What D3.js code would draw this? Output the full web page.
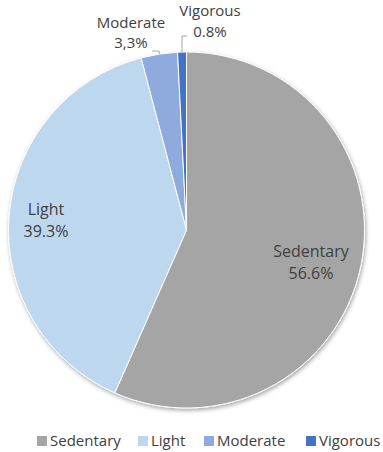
<!DOCTYPE html>
<html lang="en">
<head>
  <meta charset="UTF-8">
  <title>Activity pie</title>
  <script src="https://cdn.jsdelivr.net/npm/d3@7"></script>
  <style>
    body { margin: 0; background: #fff; }
    text { font-family: "Open Sans", "Noto Sans", sans-serif; fill: #404040; }
  </style>
</head>
<body>
<script>
  // data
  const categories = ["Sedentary", "Light", "Moderate", "Vigorous"];
  const values = [56.6, 39.3, 3.3, 0.8];
  const valueLabels = ["56.6%", "39.3%", "3,3%", "0.8%"];
  const colors = ["#a5a5a5", "#bdd7ee", "#8faadc", "#4472c4"];

  const width = 383, height = 452;
  const cx = 186.5, cy = 230, r = 178;

  const svg = d3.select("body").append("svg")
    .attr("width", width)
    .attr("height", height);

  // soft shadow under the pie
  const defs = svg.append("defs");
  const f = defs.append("filter").attr("id", "shadow")
    .attr("x", "-10%").attr("y", "-10%").attr("width", "120%").attr("height", "120%");
  f.append("feDropShadow")
    .attr("dx", 1).attr("dy", 2).attr("stdDeviation", 2)
    .attr("flood-color", "#000").attr("flood-opacity", 0.35);

  const pie = d3.pie().sort(null).value(d => d.value);
  const arcs = pie(categories.map((c, i) => ({ name: c, value: values[i], label: valueLabels[i], color: colors[i] })));
  const arc = d3.arc().innerRadius(0).outerRadius(r);

  const g = svg.append("g").attr("transform", `translate(${cx},${cy})`);
  g.append("g").attr("filter", "url(#shadow)")
    .selectAll("path")
    .data(arcs)
    .join("path")
    .attr("d", arc)
    .attr("fill", d => d.data.color)
    .attr("stroke", "#fff")
    .attr("stroke-width", 1);

  // inside labels (Sedentary, Light)
  const inside = [
    { i: 0, x: 311 - cx, y: 257 - cy },
    { i: 1, x: 46 - cx, y: 215 - cy }
  ];
  inside.forEach(p => {
    const t = g.append("text").attr("text-anchor", "middle").style("font-size", "16px");
    t.append("tspan").attr("x", p.x).attr("y", p.y).text(arcs[p.i].data.name);
    t.append("tspan").attr("x", p.x).attr("y", p.y + 22).text(arcs[p.i].data.label);
  });

  // outside labels with leader lines
  function midTop(a) {
    const ang = (a.startAngle + a.endAngle) / 2;
    return [Math.sin(ang) * r, -Math.cos(ang) * r];
  }

  // Moderate
  const mPt = midTop(arcs[2]);
  g.append("path")
    .attr("d", `M${mPt[0]},${mPt[1]} L${mPt[0]},${51 - cy} L${152 - cx},${51 - cy}`)
    .attr("fill", "none").attr("stroke", "#a6a6a6").attr("stroke-width", 1);
  const mt = g.append("text").attr("text-anchor", "middle").style("font-size", "15px");
  mt.append("tspan").attr("x", 131 - cx).attr("y", 28 - cy).text(arcs[2].data.name);
  mt.append("tspan").attr("x", 131 - cx).attr("y", 48 - cy).text(arcs[2].data.label);

  // Vigorous
  const vPt = midTop(arcs[3]);
  g.append("path")
    .attr("d", `M${vPt[0]},${vPt[1]} L${vPt[0]},${36 - cy} L${187 - cx},${36 - cy}`)
    .attr("fill", "none").attr("stroke", "#a6a6a6").attr("stroke-width", 1);
  const vt = g.append("text").attr("text-anchor", "middle").style("font-size", "15px");
  vt.append("tspan").attr("x", 210 - cx).attr("y", 16 - cy).text(arcs[3].data.name);
  vt.append("tspan").attr("x", 210 - cx).attr("y", 37 - cy).text(arcs[3].data.label);

  // legend
  const legendX = [37, 138, 204, 306];
  const legend = svg.append("g").attr("class", "legend");
  categories.forEach((c, i) => {
    legend.append("rect")
      .attr("x", legendX[i]).attr("y", 436)
      .attr("width", 10).attr("height", 10)
      .attr("fill", colors[i]);
    legend.append("text")
      .attr("x", legendX[i] + 13).attr("y", 446)
      .style("font-size", "15px")
      .text(c);
  });
</script>
</body>
</html>
